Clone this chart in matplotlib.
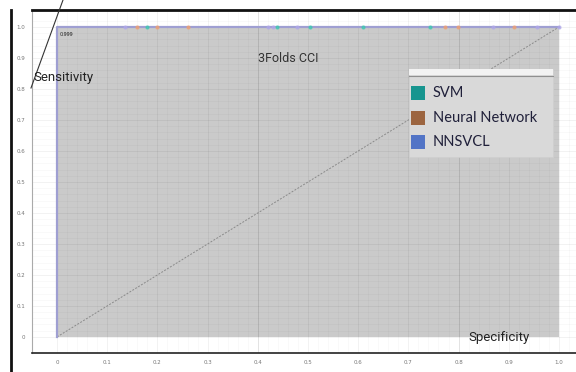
import numpy as np
import matplotlib
matplotlib.use('Agg')
import matplotlib.pyplot as plt
from matplotlib.patches import Rectangle
from matplotlib.lines import Line2D

# ROC curve (NNSVCL) and area under it
roc_fpr = [0.0, 0.0, 1.0]
roc_tpr = [0.0, 1.0, 1.0]
auc_label = '0.999'

# faint threshold markers sitting on the top edge
svm_x = [0.179, 0.438, 0.504, 0.61, 0.743]
nn_x = [0.159, 0.199, 0.261, 0.773, 0.799, 0.91]
nnsvcl_x = [0.135, 0.42, 0.43, 0.478, 0.868, 0.956, 1.0]

legend_names = ['SVM', 'Neural Network', 'NNSVCL']
legend_colors = ['#17958f', '#9c6540', '#5274c6']

ticks = np.round(np.arange(0, 1.01, 0.1), 1)
tick_labels = ['0'] + ['%.1f' % t for t in ticks[1:]]

W, H = 576, 372
fig = plt.figure(figsize=(W / 100, H / 100), dpi=100)
fig.patch.set_facecolor('white')
ax = fig.add_axes([32 / W, 19 / H, 1 - 32 / W, (353 - 10) / H])
ax.set_xlim(-0.05, 1.034)
ax.set_ylim(-0.052, 1.055)

# grey area under curve
ax.fill_between(roc_fpr, roc_tpr, 0, color='#cacaca', zorder=0.5, lw=0)

# grid
for v in np.arange(0, 1.04, 0.02):
    a = 0.07 if abs(v * 10 - round(v * 10)) < 1e-6 else 0.035
    ax.axvline(v, color='k', alpha=a, lw=0.5, zorder=0.8)
    ax.axhline(v, color='k', alpha=a, lw=0.5, zorder=0.8)
for v in [0.4, 0.8]:
    ax.axvline(v, color='k', alpha=0.06, lw=0.7, zorder=0.8)

ax.plot([0, 1], [0, 1], color='#8a8a8a', lw=0.7, ls=(0, (2, 1.5)), zorder=2)
ax.plot(roc_fpr, roc_tpr, color='#9f9fd2', lw=1.6, zorder=3)
ax.plot(svm_x, [1] * len(svm_x), 'o', ms=2, color='#3cc9b0', alpha=0.7, zorder=4)
ax.plot(nn_x, [1] * len(nn_x), 'o', ms=2, color='#f0a070', alpha=0.7, zorder=4)
ax.plot(nnsvcl_x, [1] * len(nnsvcl_x), 'o', ms=2, color='#b0a8e8', alpha=0.7, zorder=4)
ax.text(0.005, 0.985, auc_label, fontsize=3.5, color='#222222', va='top', ha='left', zorder=5)

ax.set_xticks(ticks)
ax.set_xticklabels(tick_labels)
ax.set_yticks(ticks)
ax.set_yticklabels(tick_labels)
ax.tick_params(labelsize=4, colors='#777777', length=0, pad=5)
ax.spines['right'].set_visible(False)
ax.spines['left'].set_color('#aaaaaa')
ax.spines['left'].set_linewidth(0.8)
ax.spines['bottom'].set_color('#222222')
ax.spines['bottom'].set_linewidth(1.2)
ax.spines['top'].set_color('#111111')
ax.spines['top'].set_linewidth(2)

# outer frame line on the left and the stray axis-label line
fig.add_artist(Line2D([11 / W, 11 / W], [0, 1 - 10 / H], color='#111111', lw=2))
fig.add_artist(Line2D([31 / W, 63 / W], [1 - 88 / H, 1.0], color='#333333', lw=0.8))

# labels
fig.text(258 / W, 1 - 58 / H, '3Folds CCI', fontsize=9, family='Roboto', color='#333333', va='center')
fig.text(33 / W, 1 - 78 / H, 'Sensitivity', fontsize=9.5, family='Roboto', color='#222222', va='center')
fig.text(468 / W, 1 - 338 / H, 'Specificity', fontsize=9.5, family='Roboto', color='#222222', va='center')

# legend box
fig.add_artist(Rectangle((409 / W, 1 - 157 / H), 144 / W, 88 / H, transform=fig.transFigure,
                         facecolor='#d9d9d9', edgecolor='#cfcfcf', lw=0.5))
fig.add_artist(Rectangle((409 / W, 1 - 75 / H), 144 / W, 6 / H, transform=fig.transFigure,
                         facecolor='#f2f2f2', edgecolor='none'))
fig.add_artist(Line2D([409 / W, 553 / W], [1 - 76 / H, 1 - 76 / H], color='#8f8f8f', lw=0.8))
for i, (name, c) in enumerate(zip(legend_names, legend_colors)):
    yc = 93 + i * 24.5
    fig.add_artist(Rectangle((411 / W, 1 - (yc + 7) / H), 14 / W, 14 / H, transform=fig.transFigure,
                             facecolor=c, edgecolor='none'))
    fig.text(433 / W, 1 - yc / H, name, fontsize=10.5, family='Lato', color='#20203a', va='center')

fig.savefig('out.png', dpi=100)
